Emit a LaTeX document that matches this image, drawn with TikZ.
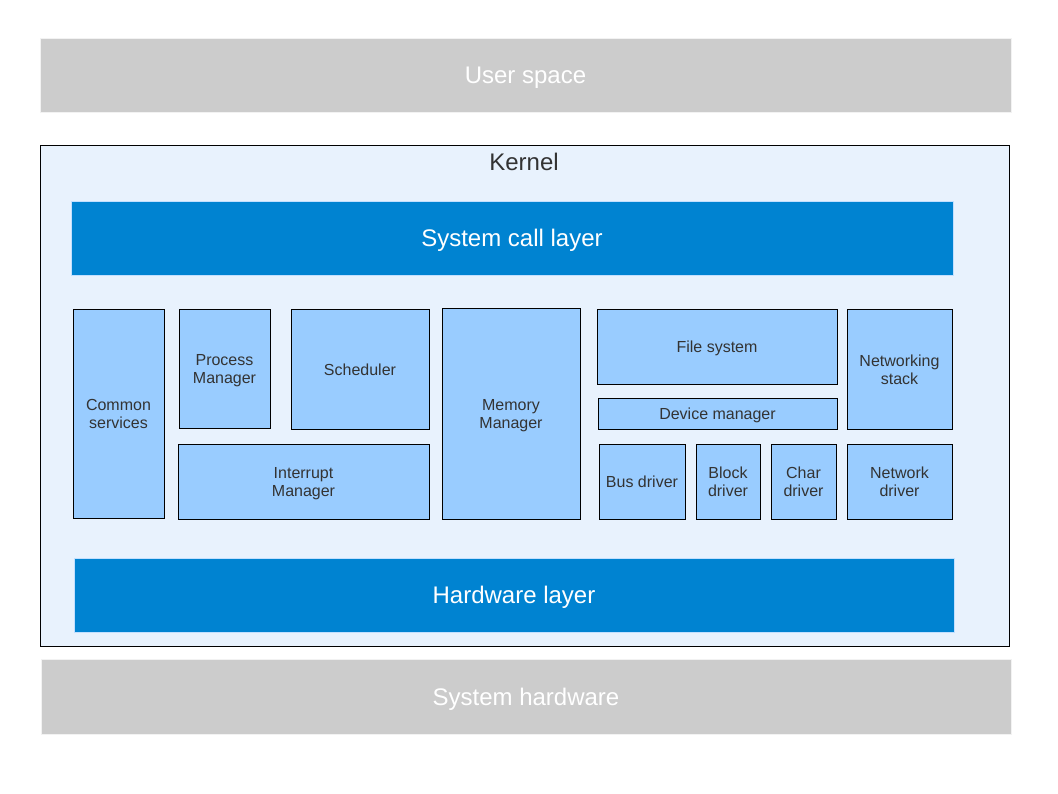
\documentclass[tikz,border=0pt]{standalone}
\usepackage{fontspec}
\setmainfont{Liberation Sans}
\usepackage{tikz}
\usetikzlibrary{shapes,positioning}

\definecolor{greybar}{HTML}{CCCCCC}
\definecolor{kernelbg}{HTML}{E8F2FD}
\definecolor{layerblue}{HTML}{0083D1}
\definecolor{partblue}{HTML}{99CCFF}
\definecolor{textgrey}{HTML}{333333}

\begin{document}
\begin{tikzpicture}[x=1pt,y=-1pt]
            \tikzstyle{box}=[rectangle,inner sep=0pt,align=center]
            \tikzstyle{big}=[font=\fontsize{24}{28}\selectfont,text depth=0pt]
            \tikzstyle{small}=[font=\fontsize{16}{18}\selectfont,text depth=0pt,text=textgrey]

            \tikzstyle{G}=[box,big,fill=greybar,draw=white!95!black,text=white]      % outer bars
            \tikzstyle{L}=[box,big,fill=layerblue,draw=partblue!60,text=white]       % kernel layers
            \tikzstyle{P}=[box,small,fill=partblue,draw=black]                      % kernel parts

            \useasboundingbox (0,0) rectangle (1058,794);

            \node[G,minimum width=971,minimum height=74] (user) at (525.5,75) {User space};
            \node[box,fill=kernelbg,draw=black,minimum width=969,minimum height=501] (kernel) at (524.5,395.5) {};
            \node[box,big,text=textgrey] (kname) at (524,162) {Kernel};

            \node[L,minimum width=882,minimum height=74] (syscall) at (512,238) {System call layer};

            \node[P,minimum width=91,minimum height=209]  (common)   at (118.5,414) {Common\\services};
            \node[P,minimum width=91,minimum height=119]  (proc)     at (224.5,369) {Process\\Manager};
            \node[P,minimum width=138,minimum height=120] (sched)    at (360,369.5)   {Scheduler};
            \node[P,minimum width=251,minimum height=75]  (intr)     at (303.5,482)   {Interrupt\\Manager};
            \node[P,minimum width=138,minimum height=211] (mem)      at (511,414)     {Memory\\Manager};
            \node[P,minimum width=240,minimum height=75]  (fs)       at (717,347)     {File system};
            \node[P,minimum width=239,minimum height=31]  (dev)      at (717.5,414)   {Device manager};
            \node[P,minimum width=86,minimum height=75]   (bus)      at (642,482)     {Bus driver};
            \node[P,minimum width=64,minimum height=75]   (block)    at (728,482)     {Block\\driver};
            \node[P,minimum width=65,minimum height=75]   (char)     at (803.5,482)   {Char\\driver};
            \node[P,minimum width=105,minimum height=120] (netstack) at (899.5,369.5) {Networking\\stack};
            \node[P,minimum width=105,minimum height=75]  (netdrv)   at (899.5,482)   {Network\\driver};

            \node[L,minimum width=880,minimum height=74] (hw) at (514,595) {Hardware layer};

            \node[G,minimum width=970,minimum height=75] (syshw) at (526,696.5) {System hardware};
        \end{tikzpicture}
\end{document}
